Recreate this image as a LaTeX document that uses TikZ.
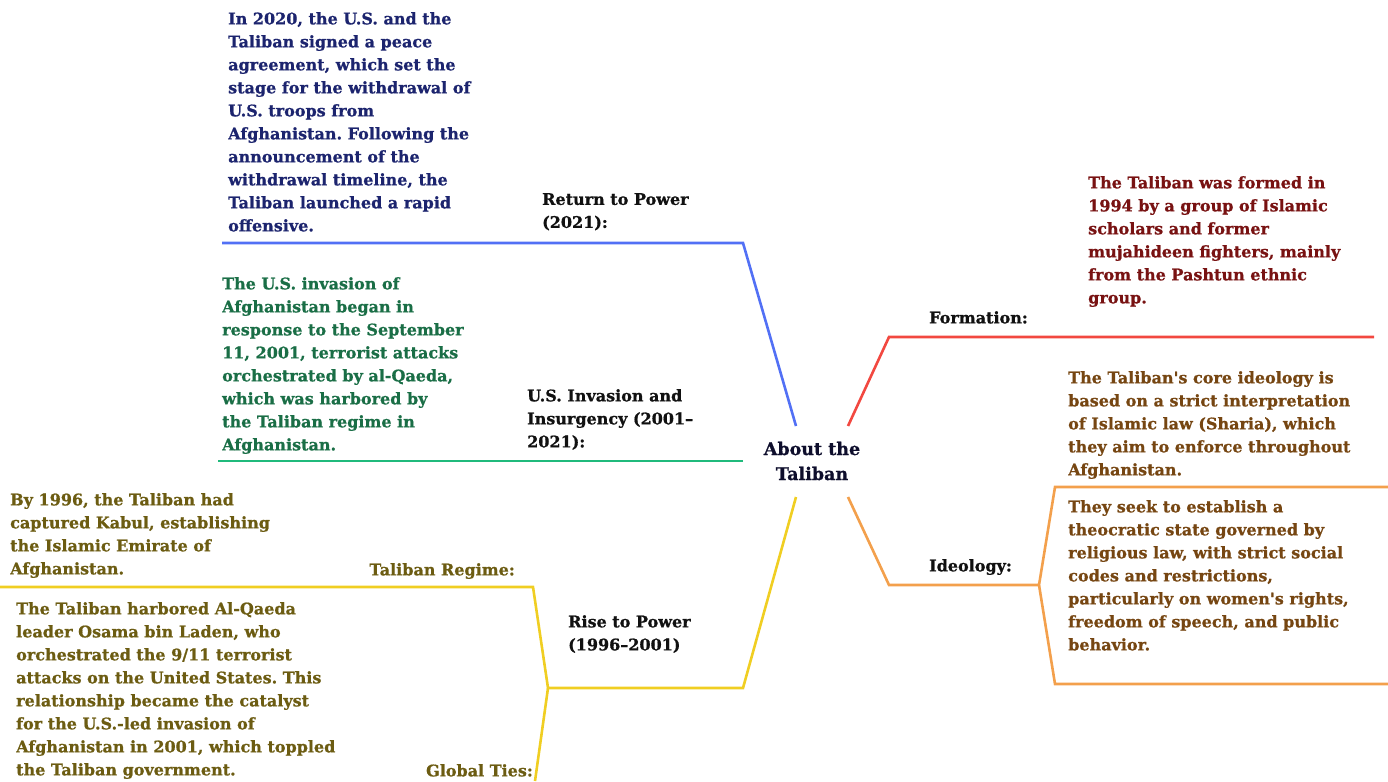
\documentclass[tikz,border=0pt]{standalone}
\usepackage{fontspec}
\setmainfont{DejaVu Serif}[BoldFeatures={FakeBold=0.8}]
\newfontfamily\apofont{DejaVu Serif}[BoldFeatures={FakeBold=0.8}]
\definecolor{blueL}{RGB}{82,112,245}
\definecolor{greenL}{RGB}{32,186,124}
\definecolor{redL}{RGB}{242,72,64}
\definecolor{yellowL}{RGB}{240,206,34}
\definecolor{orangeL}{RGB}{243,160,76}
\definecolor{navyT}{RGB}{28,36,110}
\definecolor{greenT}{RGB}{26,110,70}
\definecolor{redT}{RGB}{120,18,18}
\definecolor{brownT}{RGB}{118,70,18}
\definecolor{oliveT}{RGB}{108,92,18}
\definecolor{labelT}{RGB}{17,17,17}
\definecolor{centerT}{RGB}{14,14,44}
\newcommand{\apo}{{\apofont\bfseries '}}
\frenchspacing
\tikzset{
  txt/.style={font=\bfseries\fontsize{16}{23}\selectfont, align=left, inner sep=0pt, anchor=north west},
  lbl/.style={txt, text=labelT},
  branch/.style={line width=2.6pt, line join=miter},
}
\begin{document}
\begin{tikzpicture}[x=1pt,y=-1pt]
\useasboundingbox (0,0) rectangle (1388,781);
% centre
\node[font=\bfseries\fontsize{17.5}{25}\selectfont, align=center, inner sep=0pt, text=centerT] (c) at (812,461) {About the\\Taliban};
% junction coordinates
\coordinate (b0) at (796,426); \coordinate (b1) at (743,243); \coordinate (b2) at (222,243);
\coordinate (g0) at (743,461); \coordinate (g1) at (218,461);
\coordinate (r0) at (848,426); \coordinate (r1) at (889,337); \coordinate (r2) at (1374,337);
\coordinate (y0) at (796,497); \coordinate (y1) at (743,688); \coordinate (y2) at (548,688);
\coordinate (y3) at (533,587); \coordinate (y4) at (0,587); \coordinate (y5) at (535,781);
\coordinate (o0) at (848,497); \coordinate (o1) at (889,585); \coordinate (o2) at (1039,585);
\coordinate (o3) at (1055,487); \coordinate (o4) at (1388,487); \coordinate (o5) at (1055,684); \coordinate (o6) at (1388,684);
\draw[branch, blueL] (b0) -- (b1) -- (b2);
\draw[branch, greenL] (g0) -- (g1);
\draw[branch, redL] (r0) -- (r1) -- (r2);
\draw[branch, yellowL] (y0) -- (y1) -- (y2) -- (y3) -- (y4);
\draw[branch, yellowL] (y2) -- (y5);
\draw[branch, orangeL] (o0) -- (o1) -- (o2) -- (o3) -- (o4);
\draw[branch, orangeL] (o2) -- (o5) -- (o6);
% Return to power
\node[txt, text=navyT] (t1) at (228,12) {In 2020, the U.S. and the\\Taliban signed a peace\\agreement, which set the\\stage for the withdrawal of\\U.S. troops from\\Afghanistan. Following the\\announcement of the\\withdrawal timeline, the\\Taliban launched a rapid\\offensive.};
\node[lbl] (l1) at (542,193) {Return to Power\\(2021):};
% US invasion
\node[txt, text=greenT] (t2) at (222,277) {The U.S. invasion of\\Afghanistan began in\\response to the September\\11, 2001, terrorist attacks\\orchestrated by al-Qaeda,\\which was harbored by\\the Taliban regime in\\Afghanistan.};
\node[lbl] (l2) at (527,389) {U.S. Invasion and\\Insurgency (2001–\\2021):};
% Formation
\node[txt, text=redT] (t3) at (1088,176) {The Taliban was formed in\\1994 by a group of Islamic\\scholars and former\\mujahideen fighters, mainly\\from the Pashtun ethnic\\group.};
\node[lbl] (l3) at (929,311) {Formation:};
% Ideology
\node[txt, text=brownT] (t4) at (1068,371) {The Taliban\apo s core ideology is\\based on a strict interpretation\\of Islamic law (Sharia), which\\they aim to enforce throughout\\Afghanistan.};
\node[txt, text=brownT] (t5) at (1068,500) {They seek to establish a\\theocratic state governed by\\religious law, with strict social\\codes and restrictions,\\particularly on women\apo s rights,\\freedom of speech, and public\\behavior.};
\node[lbl] (l4) at (929,559) {Ideology:};
% Rise to power
\node[lbl] (l5) at (568,615) {Rise to Power\\(1996–2001)};
\node[txt, text=oliveT] (t6) at (10,493) {By 1996, the Taliban had\\captured Kabul, establishing\\the Islamic Emirate of\\Afghanistan.};
\node[txt, text=oliveT, anchor=north east] (l6) at (515,563) {Taliban Regime:};
\node[txt, text=oliveT] (t7) at (16,602) {The Taliban harbored Al-Qaeda\\leader Osama bin Laden, who\\orchestrated the 9/11 terrorist\\attacks on the United States. This\\relationship became the catalyst\\for the U.S.-led invasion of\\Afghanistan in 2001, which toppled\\the Taliban government.};
\node[txt, text=oliveT, anchor=north east] (l7) at (533,764) {Global Ties:};
\end{tikzpicture}
\end{document}
